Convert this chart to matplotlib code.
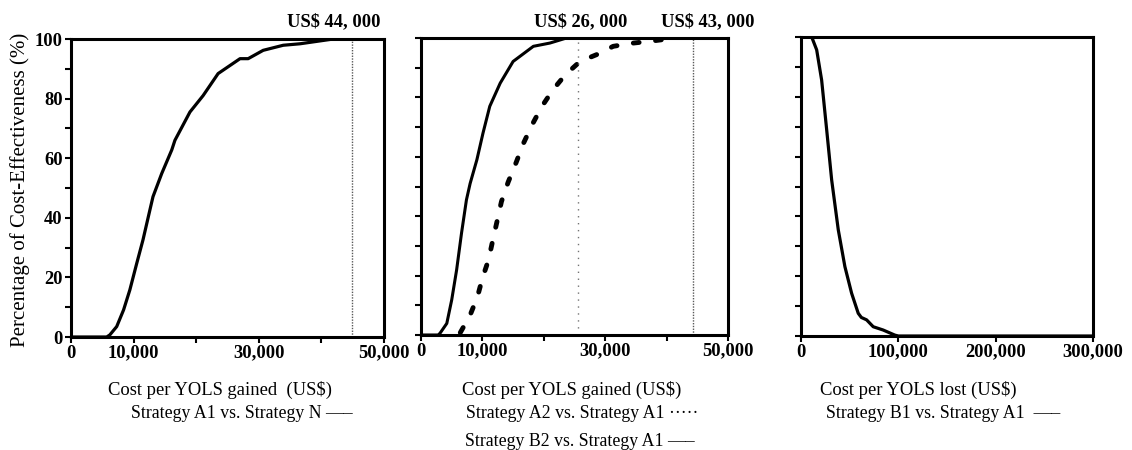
import numpy as np
import matplotlib.pyplot as plt
from matplotlib.ticker import FixedLocator, FixedFormatter, MultipleLocator

plt.rcParams['font.family'] = ['Liberation Serif', 'DejaVu Serif']

# Strategy A1 vs. Strategy N
a1n_cost = [0, 5700, 6200, 7300, 8400, 9400, 10500, 11500, 12600, 13100, 14500,
            16100, 16600, 19000, 21100, 23500, 27000, 28300, 30700, 33900,
            36600, 41900, 50000]
a1n_pct = [0, 0, 0.7, 3.5, 9.1, 15.8, 24.7, 32.6, 42.6, 47.1, 54.9,
           62.8, 66, 75.5, 81, 88.4, 93.4, 93.4, 96.2, 97.9,
           98.4, 100, 100]

# Strategy B2 vs. Strategy A1 (solid)
b2a1_cost = [0, 2800, 3100, 4200, 5000, 5800, 6600, 7400, 8000, 9100, 10100,
             11200, 12900, 15000, 18300, 21000, 23700, 50000]
b2a1_pct = [0, 0, 0.6, 3.9, 11.8, 21.9, 34.3, 45.5, 51, 59, 68,
            77, 84.8, 92.1, 97.2, 98.3, 100, 100]

# Strategy A2 vs. Strategy A1 (dotted)
a2a1_cost = [6400, 8000, 9200, 10000, 11000, 11700, 12400, 13100, 14200, 15500,
             16700, 18100, 19700, 21500, 23500, 25900, 28600, 31300, 34600,
             37300, 40300]
a2a1_pct = [0.8, 6.7, 12.9, 19.1, 25.3, 32, 38.4, 44.9, 51.5, 58.1,
            64.6, 70.8, 77, 82.6, 87.6, 92.1, 94.4, 97.2, 98.3, 98.9, 99.7]

# Strategy B1 vs. Strategy A1 (cost per YOLS lost)
b1a1_cost = [0, 11000, 16100, 21200, 26400, 31500, 38300, 45100, 52000, 58800,
             62000, 67400, 74200, 84400, 96400, 100000, 300000]
b1a1_pct = [100, 100, 95.7, 85.6, 68.9, 52.2, 35.5, 23.2, 14.3, 7.6,
            6.2, 5.4, 3.1, 2, 0.3, 0, 0]

W, H = 1132, 450
fig = plt.figure(figsize=(W / 100, H / 100), dpi=100)

def px_axes(x0, x1, y0, y1):
    return fig.add_axes([x0 / W, 1 - y1 / H, (x1 - x0) / W, (y1 - y0) / H])

ax1 = px_axes(71, 384, 39, 337)
ax2 = px_axes(421, 728, 38, 335)
ax3 = px_axes(801, 1093, 37, 336)

for ax in (ax1, ax2, ax3):
    ax.set_ylim(0, 100)
    for s in ax.spines.values():
        s.set_linewidth(2.2)
    ax.yaxis.set_major_locator(MultipleLocator(20))
    ax.yaxis.set_minor_locator(MultipleLocator(10))
    ax.tick_params(axis='both', which='both', direction='out', length=4, width=1.5)
    ax.tick_params(axis='x', labelsize=13.3, pad=1.5)
    ax.tick_params(axis='y', labelsize=13.3, pad=2)

for ax in (ax1, ax2):
    ax.set_xlim(0, 50000)
    ax.xaxis.set_major_locator(FixedLocator([0, 10000, 20000, 30000, 40000, 50000]))
    ax.xaxis.set_major_formatter(FixedFormatter(['0', '10,000', '', '30,000', '', '50,000']))

ax3.set_xlim(0, 300000)
ax3.xaxis.set_major_locator(FixedLocator([0, 100000, 200000, 300000]))
ax3.xaxis.set_major_formatter(FixedFormatter(['0', '100,000', '200,000', '300,000']))

ax1.yaxis.set_major_locator(FixedLocator([0, 20, 40, 60, 80, 100]))
ax1.yaxis.set_major_formatter(FixedFormatter(['0', '20', '40', '60', '80', '100']))
ax2.set_yticklabels([])
ax3.set_yticklabels([])

for ax in (ax1, ax2, ax3):
    for lab in ax.get_xticklabels() + ax.get_yticklabels():
        lab.set_fontweight('bold')

ax1.plot(a1n_cost, a1n_pct, color='black', lw=2.3, solid_joinstyle='round')
ax1.axvline(44900, color='0.35', lw=1.0, ls=(0, (1, 1)))

ax2.plot(b2a1_cost, b2a1_pct, color='black', lw=2.2, solid_joinstyle='round')
ax2.plot(a2a1_cost, a2a1_pct, color='black', lw=3.5, dash_capstyle='round',
         dashes=(1.2, 3.4))
ax2.axvline(25500, color='0.45', lw=1.0, ls=(0, (1, 4)))
ax2.axvline(44300, color='0.35', lw=1.0, ls=(0, (1, 1)))

ax3.plot(b1a1_cost, b1a1_pct, color='black', lw=2.3, solid_joinstyle='round')

def ftext(x, y, s, **kw):
    fig.text(x / W, 1 - y / H, s, ha='center', va='center', **kw)

ftext(334, 22, 'US$ 44, 000', fontsize=13.3, fontweight='bold')
ftext(581, 22, 'US$ 26, 000', fontsize=13.3, fontweight='bold')
ftext(708, 22, 'US$ 43, 000', fontsize=13.3, fontweight='bold')

ftext(20, 190, 'Percentage of Cost-Effectiveness (%)', fontsize=15, rotation=90)

ftext(220, 390, 'Cost per YOLS gained  (US$)', fontsize=13.4)
ftext(572, 390, 'Cost per YOLS gained (US$)', fontsize=13.4)
ftext(918, 390, 'Cost per YOLS lost (US$)', fontsize=13.4)

ftext(242, 413, 'Strategy A1 vs. Strategy N \u2014\u2013', fontsize=12.8)
ftext(582, 413, 'Strategy A2 vs. Strategy A1 \u00b7\u00b7\u00b7\u00b7\u00b7', fontsize=12.8)
ftext(580, 441, 'Strategy B2 vs. Strategy A1 \u2014\u2013', fontsize=12.8)
ftext(943, 413, 'Strategy B1 vs. Strategy A1  \u2014\u2013', fontsize=12.8)

fig.savefig('out.png', dpi=100)
